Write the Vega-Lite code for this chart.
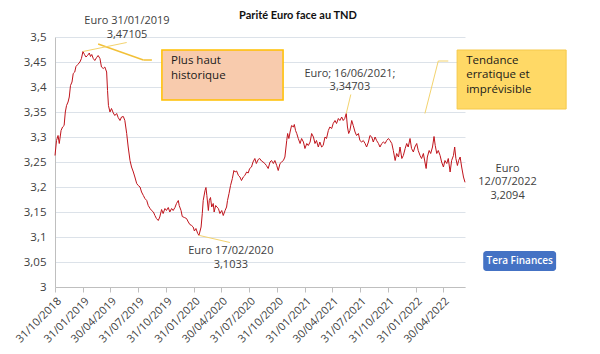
{
  "$schema": "https://vega.github.io/schema/vega-lite/v6.json",
  "width": 410,
  "height": 250,
  "autosize": "none",
  "padding": {"left": 55, "top": 37, "right": 135, "bottom": 67},
  "background": "white",
  "title": {"text": "Parité Euro face au TND", "anchor": "middle", "frame": "group", "dx": 38, "offset": 0, "dy": 6, "fontSize": 11, "font": "Lato", "fontWeight": "bold", "color": "#111111"},
  "config": {
    "view": {"stroke": null},
    "text": {"font": "Open Sans", "fontSize": 11, "color": "#404040"}
  },
  "datasets": {
    "eur": [
      {"date":"2018-10-31","eur":3.263},{"date":"2018-11-05","eur":3.293},{"date":"2018-11-10","eur":3.303},{"date":"2018-11-14","eur":3.287},
      {"date":"2018-11-20","eur":3.313},{"date":"2018-11-25","eur":3.32},{"date":"2018-11-30","eur":3.323},{"date":"2018-12-04","eur":3.35},
      {"date":"2018-12-08","eur":3.363},{"date":"2018-12-13","eur":3.37},{"date":"2018-12-17","eur":3.38},{"date":"2018-12-21","eur":3.403},
      {"date":"2018-12-26","eur":3.41},{"date":"2018-12-30","eur":3.427},{"date":"2019-01-04","eur":3.43},{"date":"2019-01-08","eur":3.441},
      {"date":"2019-01-14","eur":3.445},{"date":"2019-01-21","eur":3.45},{"date":"2019-01-26","eur":3.457},{"date":"2019-01-31","eur":3.471},
      {"date":"2019-02-05","eur":3.465},{"date":"2019-02-10","eur":3.46},{"date":"2019-02-15","eur":3.463},{"date":"2019-02-21","eur":3.468},
      {"date":"2019-02-25","eur":3.461},{"date":"2019-03-01","eur":3.465},{"date":"2019-03-06","eur":3.457},{"date":"2019-03-11","eur":3.453},
      {"date":"2019-03-17","eur":3.459},{"date":"2019-03-22","eur":3.463},{"date":"2019-03-28","eur":3.457},{"date":"2019-04-02","eur":3.44},
      {"date":"2019-04-08","eur":3.437},{"date":"2019-04-13","eur":3.44},{"date":"2019-04-19","eur":3.43},{"date":"2019-04-22","eur":3.393},
      {"date":"2019-04-25","eur":3.363},{"date":"2019-04-30","eur":3.35},{"date":"2019-05-05","eur":3.357},{"date":"2019-05-11","eur":3.348},
      {"date":"2019-05-16","eur":3.343},{"date":"2019-05-22","eur":3.347},{"date":"2019-05-27","eur":3.339},{"date":"2019-06-02","eur":3.333},
      {"date":"2019-06-07","eur":3.34},{"date":"2019-06-13","eur":3.341},{"date":"2019-06-18","eur":3.333},{"date":"2019-06-24","eur":3.307},
      {"date":"2019-06-29","eur":3.28},{"date":"2019-07-05","eur":3.253},{"date":"2019-07-10","eur":3.24},{"date":"2019-07-16","eur":3.23},
      {"date":"2019-07-21","eur":3.22},{"date":"2019-07-27","eur":3.207},{"date":"2019-08-01","eur":3.203},{"date":"2019-08-07","eur":3.2},
      {"date":"2019-08-12","eur":3.19},{"date":"2019-08-18","eur":3.183},{"date":"2019-08-23","eur":3.177},{"date":"2019-08-29","eur":3.173},
      {"date":"2019-09-03","eur":3.163},{"date":"2019-09-09","eur":3.157},{"date":"2019-09-14","eur":3.153},{"date":"2019-09-20","eur":3.15},
      {"date":"2019-09-25","eur":3.143},{"date":"2019-09-30","eur":3.137},{"date":"2019-10-06","eur":3.133},{"date":"2019-10-11","eur":3.14},
      {"date":"2019-10-17","eur":3.155},{"date":"2019-10-22","eur":3.147},{"date":"2019-10-28","eur":3.157},{"date":"2019-11-02","eur":3.153},
      {"date":"2019-11-08","eur":3.159},{"date":"2019-11-13","eur":3.15},{"date":"2019-11-19","eur":3.157},{"date":"2019-11-24","eur":3.153},
      {"date":"2019-11-30","eur":3.159},{"date":"2019-12-05","eur":3.167},{"date":"2019-12-11","eur":3.173},{"date":"2019-12-14","eur":3.163},
      {"date":"2019-12-20","eur":3.153},{"date":"2019-12-24","eur":3.141},{"date":"2019-12-31","eur":3.139},{"date":"2020-01-07","eur":3.137},
      {"date":"2020-01-13","eur":3.13},{"date":"2020-01-18","eur":3.125},{"date":"2020-01-24","eur":3.123},{"date":"2020-01-29","eur":3.12},
      {"date":"2020-02-02","eur":3.112},{"date":"2020-02-07","eur":3.117},{"date":"2020-02-13","eur":3.107},{"date":"2020-02-17","eur":3.1033},
      {"date":"2020-02-24","eur":3.12},{"date":"2020-02-28","eur":3.147},{"date":"2020-03-02","eur":3.173},{"date":"2020-03-08","eur":3.193},
      {"date":"2020-03-11","eur":3.199},{"date":"2020-03-14","eur":3.183},{"date":"2020-03-19","eur":3.153},{"date":"2020-03-22","eur":3.173},
      {"date":"2020-03-26","eur":3.179},{"date":"2020-03-30","eur":3.16},{"date":"2020-04-04","eur":3.167},{"date":"2020-04-07","eur":3.15},
      {"date":"2020-04-12","eur":3.163},{"date":"2020-04-16","eur":3.16},{"date":"2020-04-21","eur":3.157},{"date":"2020-04-26","eur":3.147},
      {"date":"2020-05-02","eur":3.153},{"date":"2020-05-07","eur":3.143},{"date":"2020-05-13","eur":3.153},{"date":"2020-05-18","eur":3.16},
      {"date":"2020-05-21","eur":3.173},{"date":"2020-05-26","eur":3.187},{"date":"2020-05-31","eur":3.203},{"date":"2020-06-06","eur":3.217},
      {"date":"2020-06-11","eur":3.233},{"date":"2020-06-15","eur":3.23},{"date":"2020-06-20","eur":3.232},{"date":"2020-06-26","eur":3.223},
      {"date":"2020-07-01","eur":3.22},{"date":"2020-07-06","eur":3.213},{"date":"2020-07-12","eur":3.22},{"date":"2020-07-17","eur":3.223},
      {"date":"2020-07-23","eur":3.23},{"date":"2020-07-28","eur":3.228},{"date":"2020-08-02","eur":3.237},{"date":"2020-08-08","eur":3.24},
      {"date":"2020-08-13","eur":3.25},{"date":"2020-08-19","eur":3.257},{"date":"2020-08-24","eur":3.247},{"date":"2020-08-30","eur":3.255},
      {"date":"2020-09-04","eur":3.257},{"date":"2020-09-10","eur":3.252},{"date":"2020-09-15","eur":3.25},{"date":"2020-09-21","eur":3.247},
      {"date":"2020-09-26","eur":3.243},{"date":"2020-10-02","eur":3.237},{"date":"2020-10-08","eur":3.25},{"date":"2020-10-13","eur":3.253},
      {"date":"2020-10-19","eur":3.247},{"date":"2020-10-24","eur":3.253},{"date":"2020-10-30","eur":3.243},{"date":"2020-11-04","eur":3.233},
      {"date":"2020-11-10","eur":3.247},{"date":"2020-11-15","eur":3.25},{"date":"2020-11-21","eur":3.253},{"date":"2020-11-26","eur":3.26},
      {"date":"2020-12-02","eur":3.293},{"date":"2020-12-05","eur":3.307},{"date":"2020-12-09","eur":3.297},{"date":"2020-12-13","eur":3.31},
      {"date":"2020-12-18","eur":3.323},{"date":"2020-12-24","eur":3.32},{"date":"2020-12-27","eur":3.325},{"date":"2020-12-31","eur":3.313},
      {"date":"2021-01-04","eur":3.307},{"date":"2021-01-09","eur":3.297},{"date":"2021-01-15","eur":3.287},{"date":"2021-01-20","eur":3.297},
      {"date":"2021-01-26","eur":3.29},{"date":"2021-01-31","eur":3.277},{"date":"2021-02-06","eur":3.287},{"date":"2021-02-11","eur":3.283},
      {"date":"2021-02-17","eur":3.29},{"date":"2021-02-22","eur":3.307},{"date":"2021-02-28","eur":3.3},{"date":"2021-03-05","eur":3.287},
      {"date":"2021-03-10","eur":3.293},{"date":"2021-03-16","eur":3.28},{"date":"2021-03-21","eur":3.29},{"date":"2021-03-27","eur":3.28},
      {"date":"2021-04-01","eur":3.283},{"date":"2021-04-07","eur":3.3},{"date":"2021-04-12","eur":3.297},{"date":"2021-04-18","eur":3.313},
      {"date":"2021-04-23","eur":3.32},{"date":"2021-04-29","eur":3.317},{"date":"2021-05-04","eur":3.327},{"date":"2021-05-10","eur":3.333},
      {"date":"2021-05-15","eur":3.327},{"date":"2021-05-21","eur":3.337},{"date":"2021-05-26","eur":3.333},{"date":"2021-06-01","eur":3.34},
      {"date":"2021-06-06","eur":3.333},{"date":"2021-06-11","eur":3.337},{"date":"2021-06-16","eur":3.347},{"date":"2021-06-20","eur":3.32},
      {"date":"2021-06-24","eur":3.307},{"date":"2021-06-28","eur":3.313},{"date":"2021-07-04","eur":3.333},{"date":"2021-07-09","eur":3.323},
      {"date":"2021-07-15","eur":3.31},{"date":"2021-07-20","eur":3.303},{"date":"2021-07-26","eur":3.307},{"date":"2021-07-31","eur":3.293},
      {"date":"2021-08-06","eur":3.29},{"date":"2021-08-11","eur":3.293},{"date":"2021-08-17","eur":3.287},{"date":"2021-08-22","eur":3.28},
      {"date":"2021-08-28","eur":3.29},{"date":"2021-09-02","eur":3.303},{"date":"2021-09-08","eur":3.3},{"date":"2021-09-13","eur":3.29},
      {"date":"2021-09-19","eur":3.3},{"date":"2021-09-24","eur":3.293},{"date":"2021-09-30","eur":3.287},{"date":"2021-10-05","eur":3.28},
      {"date":"2021-10-11","eur":3.287},{"date":"2021-10-16","eur":3.29},{"date":"2021-10-22","eur":3.287},{"date":"2021-10-27","eur":3.293},
      {"date":"2021-11-02","eur":3.297},{"date":"2021-11-07","eur":3.293},{"date":"2021-11-13","eur":3.287},{"date":"2021-11-18","eur":3.273},
      {"date":"2021-11-24","eur":3.253},{"date":"2021-11-29","eur":3.267},{"date":"2021-12-05","eur":3.26},{"date":"2021-12-10","eur":3.28},
      {"date":"2021-12-16","eur":3.257},{"date":"2021-12-21","eur":3.263},{"date":"2021-12-27","eur":3.277},{"date":"2022-01-01","eur":3.287},
      {"date":"2022-01-06","eur":3.28},{"date":"2022-01-12","eur":3.297},{"date":"2022-01-17","eur":3.277},{"date":"2022-01-23","eur":3.27},
      {"date":"2022-01-28","eur":3.28},{"date":"2022-02-03","eur":3.287},{"date":"2022-02-08","eur":3.273},{"date":"2022-02-14","eur":3.263},
      {"date":"2022-02-19","eur":3.257},{"date":"2022-02-25","eur":3.267},{"date":"2022-03-02","eur":3.25},{"date":"2022-03-06","eur":3.237},
      {"date":"2022-03-10","eur":3.26},{"date":"2022-03-16","eur":3.273},{"date":"2022-03-21","eur":3.267},{"date":"2022-03-27","eur":3.28},
      {"date":"2022-04-01","eur":3.301},{"date":"2022-04-05","eur":3.283},{"date":"2022-04-10","eur":3.267},{"date":"2022-04-15","eur":3.273},
      {"date":"2022-04-21","eur":3.263},{"date":"2022-04-26","eur":3.25},{"date":"2022-05-02","eur":3.24},{"date":"2022-05-07","eur":3.253},
      {"date":"2022-05-13","eur":3.247},{"date":"2022-05-18","eur":3.257},{"date":"2022-05-24","eur":3.23},{"date":"2022-05-29","eur":3.253},
      {"date":"2022-06-04","eur":3.263},{"date":"2022-06-08","eur":3.28},{"date":"2022-06-12","eur":3.257},{"date":"2022-06-17","eur":3.243},
      {"date":"2022-06-21","eur":3.253},{"date":"2022-06-26","eur":3.26},{"date":"2022-07-01","eur":3.24},{"date":"2022-07-07","eur":3.22},
      {"date":"2022-07-12","eur":3.2094}
    ],
    "notes": [
      {"date":"2019-06-25","eur":3.532,"t":"Euro 31/01/2019"},
      {"date":"2019-06-25","eur":3.504,"t":"3,47105"},
      {"date":"2021-06-28","eur":3.427,"t":"Euro; 16/06/2021;"},
      {"date":"2021-06-28","eur":3.4,"t":"3,34703"},
      {"date":"2020-06-01","eur":3.073,"t":"Euro 17/02/2020"},
      {"date":"2020-06-01","eur":3.044,"t":"3,1033"},
      {"date":"2022-11-29","eur":3.237,"t":"Euro"},
      {"date":"2022-11-29","eur":3.21,"t":"12/07/2022"},
      {"date":"2022-11-29","eur":3.183,"t":"3,2094"}
    ],
    "boxnotes": [
      {"date":"2019-11-17","eur":3.452,"t":"Plus haut"},
      {"date":"2019-11-17","eur":3.422,"t":"historique"},
      {"date":"2022-07-16","eur":3.453,"t":"Tendance"},
      {"date":"2022-07-16","eur":3.424,"t":"erratique et"},
      {"date":"2022-07-16","eur":3.395,"t":"imprévisible"}
    ],
    "leadersGold": [
      {"date":"2019-03-22","eur":3.486,"date2":"2019-08-18","eur2":3.454},
      {"date":"2019-08-18","eur":3.454,"date2":"2019-09-15","eur2":3.454}
    ],
    "leadersLight": [
      {"date":"2019-01-31","eur":3.471,"date2":"2019-06-24","eur2":3.489},
      {"date":"2021-06-16","eur":3.347,"date2":"2021-07-01","eur2":3.385},
      {"date":"2022-03-02","eur":3.347,"date2":"2022-04-15","eur2":3.452},
      {"date":"2022-04-15","eur":3.452,"date2":"2022-05-18","eur2":3.452},
      {"date":"2020-02-17","eur":3.1033,"date2":"2020-05-29","eur2":3.089}
    ]
  },
  "layer": [
    {
      "data": {"name": "eur"},
      "mark": {"type": "line", "color": "#C0141C", "strokeWidth": 1},
      "encoding": {
        "x": {"field": "date", "type": "temporal",
          "scale": {"type": "utc", "domain": [1540944000000, 1657584000000], "nice": false},
          "axis": {"title": null, "format": "%d/%m/%Y", "labelAngle": -45, "labelFontSize": 11, "labelFont": "Open Sans", "labelColor": "#404040",
            "domainColor": "#BFBFBF", "tickColor": "#BFBFBF", "tickSize": 5, "labelPadding": 3, "grid": false, "labelOverlap": false, "labelBound": false, "labelFlush": false,
            "tickCount": 30,
            "values": [1540944000000, 1548892800000, 1556582400000, 1564531200000, 1572480000000, 1580428800000, 1588204800000, 1596153600000,
              1604102400000, 1612051200000, 1619740800000, 1627689600000, 1635638400000, 1643587200000, 1651276800000]}},
        "y": {"field": "eur", "type": "quantitative",
          "scale": {"domain": [3, 3.5], "nice": false, "zero": false},
          "axis": {"title": null, "values": [3, 3.05, 3.1, 3.15, 3.2, 3.25, 3.3, 3.35, 3.4, 3.45, 3.5], "tickCount": 30,
            "labelExpr": "replace(format(datum.value, '.2~f'), '.', ',')",
            "labelFontSize": 11.5, "labelFont": "Open Sans", "labelColor": "#404040", "labelPadding": 9,
            "ticks": false, "domainColor": "#BFBFBF", "gridColor": "#DCE2E9", "grid": true}}
      }
    },
    {
      "data": {"values": [{"date":"2019-10-18","date2":"2020-11-20","eur":3.474,"eur2":3.374}]},
      "mark": {"type": "rect", "fill": "#F8CBAD", "stroke": "#FFC000", "strokeWidth": 1.5},
      "encoding": {"x": {"field": "date", "type": "temporal"}, "x2": {"field": "date2"}, "y": {"field": "eur", "type": "quantitative"}, "y2": {"field": "eur2"}}
    },
    {
      "data": {"values": [{"date":"2022-06-16","date2":"2023-06-10","eur":3.474,"eur2":3.356}]},
      "mark": {"type": "rect", "fill": "#FFD966", "stroke": "#F5C94A", "strokeWidth": 1},
      "encoding": {"x": {"field": "date", "type": "temporal"}, "x2": {"field": "date2"}, "y": {"field": "eur", "type": "quantitative"}, "y2": {"field": "eur2"}}
    },
    {
      "data": {"values": [{"date":"2022-09-10","date2":"2023-05-08","eur":3.072,"eur2":3.032}]},
      "mark": {"type": "rect", "fill": "#4472C4", "cornerRadius": 3},
      "encoding": {"x": {"field": "date", "type": "temporal"}, "x2": {"field": "date2"}, "y": {"field": "eur", "type": "quantitative"}, "y2": {"field": "eur2"}}
    },
    {
      "data": {"values": [{"date":"2023-01-08","eur":3.052,"t":"Tera Finances"}]},
      "mark": {"type": "text", "color": "white", "fontSize": 10, "font": "Open Sans", "fontWeight": 600, "align": "center", "baseline": "middle"},
      "encoding": {"x": {"field": "date", "type": "temporal"}, "y": {"field": "eur", "type": "quantitative"}, "text": {"field": "t"}}
    },
    {
      "data": {"name": "leadersGold"},
      "mark": {"type": "rule", "color": "#F2C037", "strokeWidth": 1.5},
      "encoding": {"x": {"field": "date", "type": "temporal"}, "x2": {"field": "date2"}, "y": {"field": "eur", "type": "quantitative"}, "y2": {"field": "eur2"}}
    },
    {
      "data": {"name": "leadersLight"},
      "mark": {"type": "rule", "color": "#F3D36E", "strokeWidth": 1},
      "encoding": {"x": {"field": "date", "type": "temporal"}, "x2": {"field": "date2"}, "y": {"field": "eur", "type": "quantitative"}, "y2": {"field": "eur2"}}
    },
    {
      "data": {"name": "notes"},
      "mark": {"type": "text", "align": "center", "baseline": "middle", "fontSize": 11},
      "encoding": {"x": {"field": "date", "type": "temporal"}, "y": {"field": "eur", "type": "quantitative"}, "text": {"field": "t"}}
    },
    {
      "data": {"name": "boxnotes"},
      "mark": {"type": "text", "align": "left", "baseline": "middle", "fontSize": 11.5, "color": "#1a1a1a"},
      "encoding": {"x": {"field": "date", "type": "temporal"}, "y": {"field": "eur", "type": "quantitative"}, "text": {"field": "t"}}
    }
  ]
}
